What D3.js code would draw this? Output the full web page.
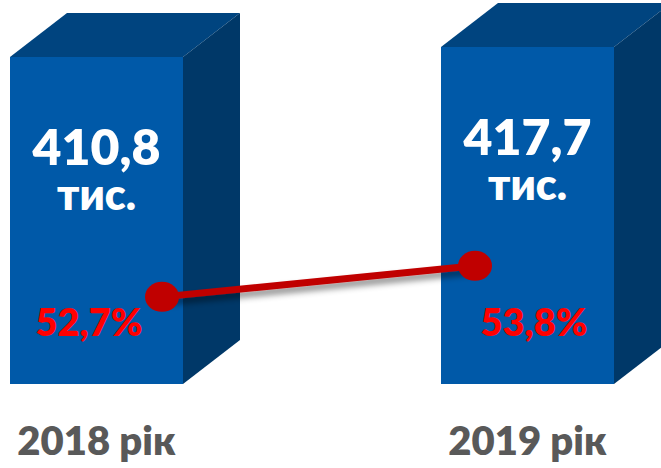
<!DOCTYPE html>
<html>
<head>
<meta charset="utf-8">
<script src="https://cdn.jsdelivr.net/npm/d3@7"></script>
<style>
  html, body { margin: 0; padding: 0; background: #ffffff; }
  svg { display: block; }
  text { font-family: Lato, "Open Sans", sans-serif; font-weight: 800; }
</style>
</head>
<body>
<svg id="chart" width="661" height="468"></svg>
<script>
// ---- data ----
const categories = ["2018 рік", "2019 рік"];
const values = [410.8, 417.7];
const valueLabels = ["410,8", "417,7"];
const unitLabel = "тис.";
const shares = [52.7, 53.8];
const shareLabels = ["52,7%", "53,8%"];

// ---- layout ----
const W = 661, H = 468;
const baseY = 384;
const depthX = 57, depthY = 44;

const svg = d3.select("#chart");

const x = d3.scaleBand().domain(categories).range([10, 614]).paddingInner(0.5986).paddingOuter(0);
const y = d3.scaleLinear().domain([185.2, 417.7]).range([baseY, 47]);
const xLine = d3.scalePoint().domain(categories).range([162, 475]);
const xShareLabel = d3.scalePoint().domain(categories).range([89, 534]);
const yShare = d3.scaleLinear().domain([50, 55]).range([373, 232]);

const data = categories.map((c, i) => ({ c, v: values[i], label: valueLabels[i], s: shares[i], sl: shareLabels[i] }));

const defs = svg.append("defs");
const f = defs.append("filter").attr("id", "shadow").attr("x", "-20%").attr("y", "-50%").attr("width", "140%").attr("height", "200%");
f.append("feDropShadow").attr("dx", 2).attr("dy", 5).attr("stdDeviation", 3).attr("flood-color", "#000").attr("flood-opacity", 0.45);

const bars = svg.append("g").selectAll("g").data(data).join("g");

// front face
bars.append("rect")
  .attr("x", d => x(d.c))
  .attr("y", d => y(d.v))
  .attr("width", x.bandwidth())
  .attr("height", d => baseY - y(d.v))
  .attr("fill", "#0059A8");

// top face
bars.append("path")
  .attr("d", d => {
    const x0 = x(d.c), x1 = x0 + x.bandwidth(), t = y(d.v);
    return `M${x0},${t}L${x0 + depthX},${t - depthY}L${x1 + depthX},${t - depthY}L${x1},${t}Z`;
  })
  .attr("fill", "#00447F");

// side face
bars.append("path")
  .attr("d", d => {
    const x1 = x(d.c) + x.bandwidth(), t = y(d.v);
    return `M${x1},${t}L${x1 + depthX},${t - depthY}L${x1 + depthX},${baseY - depthY}L${x1},${baseY}Z`;
  })
  .attr("fill", "#003868");

// value labels (number + unit as two lines of one text)
const vt = bars.append("text")
  .attr("text-anchor", "middle")
  .attr("fill", "#ffffff");
vt.append("tspan")
  .attr("x", d => x(d.c) + x.bandwidth() / 2)
  .attr("y", d => y(d.v) + 108)
  .attr("font-size", 50)
  .text(d => d.label);
vt.append("tspan")
  .attr("x", d => x(d.c) + x.bandwidth() / 2)
  .attr("y", d => y(d.v) + 153)
  .attr("font-size", 43)
  .text(unitLabel);

// share labels
bars.append("text")
  .attr("x", d => xShareLabel(d.c))
  .attr("y", baseY - 48)
  .attr("text-anchor", "middle")
  .attr("fill", "#FF0000")
  .attr("font-size", 38)
  .text(d => d.sl);

// line
const line = d3.line().x(d => xLine(d.c)).y(d => yShare(d.s));
const lg = svg.append("g").attr("filter", "url(#shadow)");
lg.append("path")
  .datum(data)
  .attr("d", line)
  .attr("fill", "none")
  .attr("stroke", "#C00000")
  .attr("stroke-width", 7);
svg.append("g").selectAll("ellipse").data(data).join("ellipse")
  .attr("cx", d => xLine(d.c))
  .attr("cy", d => yShare(d.s))
  .attr("rx", 17)
  .attr("ry", 15)
  .attr("fill", "#C00000");

// category labels
svg.append("g").selectAll("text").data(data).join("text")
  .attr("x", d => x(d.c) + x.bandwidth() / 2)
  .attr("y", 455)
  .attr("text-anchor", "middle")
  .attr("fill", "#595959")
  .attr("font-size", 40)
  .text(d => d.c);
</script>
</body>
</html>
